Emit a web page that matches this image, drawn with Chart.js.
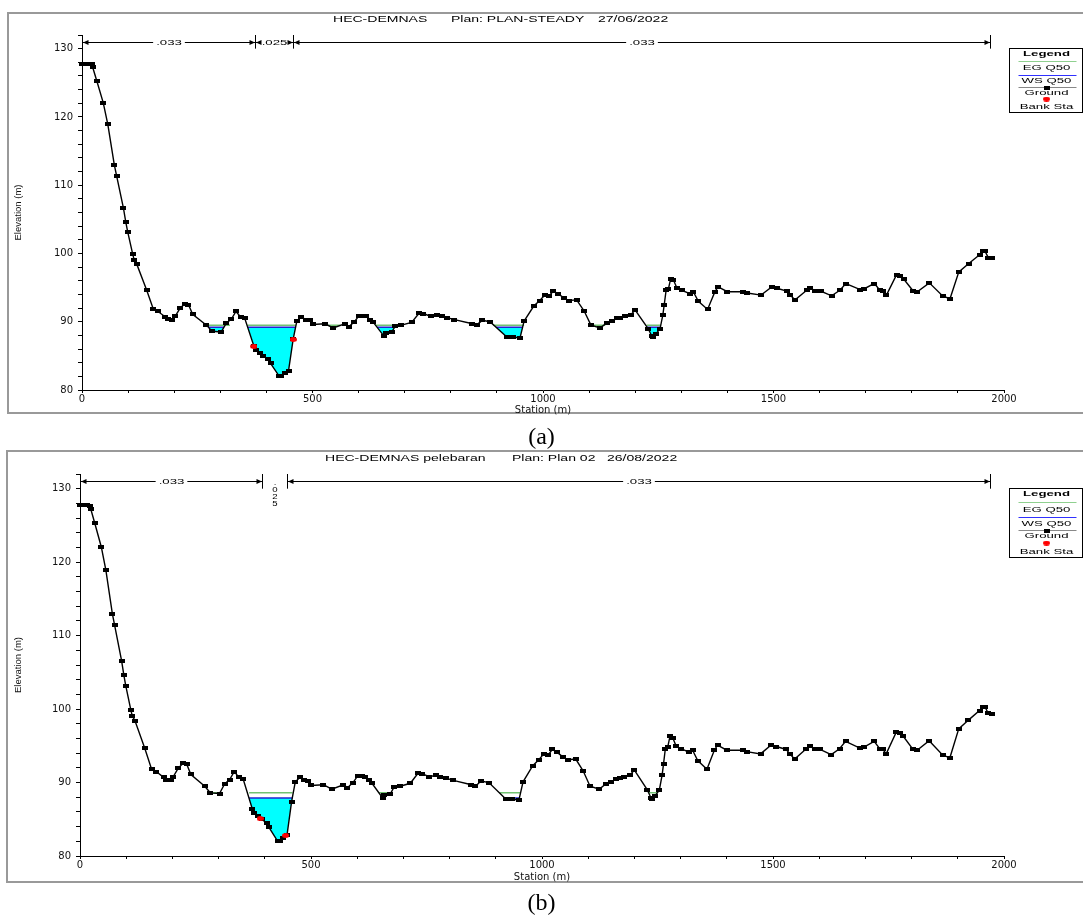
<!DOCTYPE html>
<html>
<head>
<meta charset="utf-8">
<title>HEC-DEMNAS cross section</title>
<script src="https://cdn.jsdelivr.net/npm/chart.js@4.4.1/dist/chart.umd.min.js"></script>
<style>
  html, body { margin: 0; padding: 0; background: #fff; }
  body { width: 1083px; height: 916px; position: relative; overflow: hidden; }
  .frame { position: absolute; border: 2px solid #999; box-sizing: border-box; }
  canvas { position: absolute; left: 0; }
  .caption { position: absolute; left: 0; width: 1083px; text-align: center;
             font-family: "Liberation Serif", "Times New Roman", serif; font-size: 24px; color: #000; }
</style>
</head>
<body>
<div class="frame" style="left:7px;top:12px;width:1100px;height:402px"></div>
<canvas id="chartA" width="1083" height="430" style="top:0"></canvas>
<div class="caption" style="top:423px">(a)</div>
<div class="frame" style="left:6px;top:450px;width:1100px;height:433px"></div>
<canvas id="chartB" width="1083" height="445" style="top:440px"></canvas>
<div class="caption" style="top:889px">(b)</div>

<script>
// surveyed ground profile, same section in both plans
const groundStation = [0, 8, 15, 21, 23, 32, 46, 56, 70, 75, 90, 95, 99, 110, 113, 119, 140, 155, 165, 181,
  187, 196, 202, 213, 223, 231, 240, 270, 282, 302, 313, 324, 334, 344, 353, 373, 377, 386, 393, 404,
  409, 428, 432, 440, 448, 458, 466, 476, 485, 494, 500, 527, 545, 570, 579, 591, 601, 610, 617, 625,
  632, 655, 659, 672, 680, 693, 715, 732, 740, 756, 771, 780, 792, 808, 847, 856, 868, 885, 921, 934,
  950, 959, 980, 993, 1004, 1014, 1022, 1033, 1045, 1056, 1073, 1089, 1104, 1124, 1138, 1150, 1160, 1168, 1178, 1190,
  1200, 1228, 1236, 1239, 1245, 1254, 1260, 1263, 1267, 1272, 1277, 1283, 1290, 1301, 1319, 1326, 1337, 1357, 1373, 1380,
  1400, 1434, 1443, 1473, 1496, 1507, 1529, 1536, 1547, 1572, 1580, 1590, 1602, 1626, 1644, 1657, 1688, 1696, 1719, 1731,
  1738, 1745, 1767, 1774, 1782, 1803, 1812, 1838, 1868, 1883, 1902, 1923, 1947, 1954, 1959, 1966, 1973];
const groundElev = [127.8, 127.8, 127.8, 127.7, 127.3, 125.3, 122.1, 118.9, 113.0, 111.4, 106.6, 104.6, 103.2, 99.9, 99.1, 98.4, 94.7, 91.8, 91.5, 90.7,
  90.4, 90.3, 90.8, 92.0, 92.6, 92.5, 91.1, 89.5, 88.6, 88.5, 89.8, 90.4, 91.5, 90.7, 90.5, 86.4, 85.8, 85.4, 85.0, 84.5,
  83.9, 82.0, 82.0, 82.5, 82.8, 87.4, 90.1, 90.7, 90.3, 90.2, 89.6, 89.7, 89.1, 89.7, 89.3, 90.0, 90.9, 90.9, 90.8, 90.3,
  89.9, 87.9, 88.3, 88.5, 89.4, 89.5, 89.9, 91.3, 91.2, 90.8, 91.0, 90.8, 90.6, 90.3, 89.7, 89.5, 90.2, 90.0, 87.8, 87.8,
  87.6, 90.1, 92.3, 93.1, 93.9, 93.8, 94.5, 94.1, 93.5, 93.1, 93.2, 91.6, 89.5, 89.1, 89.8, 90.1, 90.5, 90.6, 90.8, 91.0,
  91.7, 89.0, 87.9, 87.7, 88.2, 89.0, 91.0, 92.5, 94.6, 94.8, 96.3, 96.1, 95.0, 94.6, 94.1, 94.4, 93.0, 91.8, 94.4, 95.1,
  94.4, 94.4, 94.2, 93.9, 95.1, 94.9, 94.5, 93.9, 93.2, 94.6, 95.0, 94.5, 94.5, 93.8, 94.6, 95.6, 94.7, 94.8, 95.6, 94.6,
  94.5, 93.9, 96.9, 96.7, 96.3, 94.5, 94.4, 95.7, 93.7, 93.4, 97.3, 98.5, 99.8, 100.3, 100.3, 99.4, 99.3];

// plan (a)
const titleA = ['HEC-DEMNAS', 'Plan: PLAN-STEADY', '27/06/2022'];
const bankStationA = [373, 458];
const bankElevA = [86.4, 87.4];
const wsElevA = 89.2;
const egElevA = 89.5;
const wsReachA = [[274, 308], [359, 463], [640, 678], [898, 956], [1226, 1255]];
const egReachA = [[263, 321], [359, 464], [534, 560], [636, 693], [892, 959], [1104, 1135], [1225, 1256]];
const manningA = ['.033', '.025', '.033'];
const manningStationA = [0, 375, 458, 1970];

// plan (b) pelebaran
const titleB = ['HEC-DEMNAS pelebaran', 'Plan: Plan 02', '26/08/2022'];
const bankStationB = [390, 445];
const bankElevB = [85.1, 82.8];
const wsElevB = 87.9;
const egElevB = 88.6;
const wsReachB = [[366, 460], [919, 951], [1236, 1241]];
const egReachB = [[282, 303], [366, 460], [647, 673], [908, 954], [1231, 1250]];
const manningB = ['.033', '.025', '.033'];
const manningStationB = [0, 393, 447, 1970];

const xLabels = [0, 500, 1000, 1500, 2000];
const yLabels = [80, 90, 100, 110, 120, 130];
const legendLabels = ['EG Q50', 'WS Q50', 'Ground', 'Bank Sta'];

const SX = 1.65; // the original plot text is drawn wide
const SANS = '"Liberation Sans", Arial, sans-serif';

function makeMarker(w, h, color, round) {
  const c = document.createElement('canvas');
  c.width = w; c.height = h;
  const g = c.getContext('2d');
  g.fillStyle = color;
  if (round) {
    g.beginPath(); g.ellipse(w / 2, h / 2, w / 2, h / 2, 0, 0, Math.PI * 2); g.fill();
  } else {
    g.fillRect(0, 0, w, h);
  }
  return c;
}
const groundMarker = makeMarker(6, 4, '#000', false);
const bankMarker = makeMarker(7, 5, '#ff0000', true);

function reachLine(reaches, elev) {
  const pts = [];
  reaches.forEach((r, i) => {
    if (i > 0) pts.push({x: (reaches[i - 1][1] + r[0]) / 2, y: null});
    pts.push({x: r[0], y: elev}, {x: r[1], y: elev});
  });
  return pts;
}

function wideText(ctx, text, x, y, font, align, sx = SX) {
  ctx.save();
  ctx.font = font;
  ctx.textBaseline = 'middle';
  ctx.textAlign = align;
  ctx.translate(x, y);
  ctx.scale(sx, 1);
  ctx.fillText(text, 0, 0);
  ctx.restore();
}
function wideWidth(ctx, text, font) {
  ctx.save(); ctx.font = font;
  const w = ctx.measureText(text).width * SX;
  ctx.restore();
  return w;
}

function drawManning(chart, labels, stations) {
  const {ctx, scales: {x, y}} = chart;
  const yy = Math.round(y.getPixelForValue(131)) + 0.5;
  const top = y.getPixelForValue(132), bot = y.getPixelForValue(130);
  const font = '8px ' + SANS;
  const px = stations.map(s => Math.round(x.getPixelForValue(s)) + 0.5);
  ctx.save();
  ctx.strokeStyle = '#000'; ctx.fillStyle = '#000'; ctx.lineWidth = 1;
  px.forEach(p => { ctx.beginPath(); ctx.moveTo(p, top); ctx.lineTo(p, bot); ctx.stroke(); });
  labels.forEach((lab, i) => {
    const x1 = px[i], x2 = px[i + 1], cx = (x1 + x2) / 2;
    const w = wideWidth(ctx, lab, font);
    if (x2 - x1 >= w + 8) {
      wideText(ctx, lab, cx, yy, font, 'center');
      ctx.beginPath();
      ctx.moveTo(x1, yy); ctx.lineTo(cx - w / 2 - 3, yy);
      ctx.moveTo(cx + w / 2 + 3, yy); ctx.lineTo(x2, yy);
      ctx.stroke();
      ctx.beginPath();
      ctx.moveTo(x1 + 0.5, yy); ctx.lineTo(x1 + 6, yy - 2.5); ctx.lineTo(x1 + 6, yy + 2.5); ctx.closePath();
      ctx.moveTo(x2 - 0.5, yy); ctx.lineTo(x2 - 6, yy - 2.5); ctx.lineTo(x2 - 6, yy + 2.5); ctx.closePath();
      ctx.fill();
    } else {
      // too narrow: HEC-RAS stacks the characters
      [...lab].forEach((ch, k) => wideText(ctx, ch, cx, yy + 1 + k * 7, '8px ' + SANS, 'center', 1.2));
    }
  });
  ctx.restore();
}

function drawTitle(chart, parts, offsets) {
  const {ctx, chartArea, scales: {y}} = chart;
  const ty = y.getPixelForValue(132) - 15;
  ctx.save();
  ctx.fillStyle = '#000';
  parts.forEach((p, i) => wideText(ctx, p, chartArea.left + offsets[i], ty, '8.5px ' + SANS, 'left'));
  ctx.restore();
}

function drawLegend(chart) {
  const {ctx, chartArea, scales: {y}} = chart;
  const top = Math.round(y.getPixelForValue(130)) - 0.5;
  const k = (y.getPixelForValue(120) - y.getPixelForValue(130)) / 68.3;
  const left = Math.round(chartArea.right) + 5.5, w = 73, h = Math.round(64 * k);
  const cx = left + 37, l1 = left + 9, l2 = left + w - 6;
  const font = '8px ' + SANS;
  ctx.save();
  ctx.fillStyle = '#fff'; ctx.fillRect(left, top, w, h);
  ctx.strokeStyle = '#000'; ctx.lineWidth = 1; ctx.strokeRect(left, top, w, h);
  ctx.fillStyle = '#000';
  wideText(ctx, 'Legend', cx, top + 5 * k, 'bold ' + font, 'center');
  const hline = (yy, color) => {
    ctx.strokeStyle = color; ctx.lineWidth = 1;
    ctx.beginPath(); ctx.moveTo(l1, Math.round(yy) + 0.5); ctx.lineTo(l2, Math.round(yy) + 0.5); ctx.stroke();
  };
  hline(top + 12.7 * k, '#8fd08f');
  wideText(ctx, legendLabels[0], cx, top + 19.7 * k, font, 'center');
  hline(top + 26.3 * k, '#3030ff');
  wideText(ctx, legendLabels[1], cx, top + 32.7 * k, font, 'center');
  hline(top + 38.3 * k, '#888');
  ctx.drawImage(groundMarker, cx - 3, Math.round(top + 38.3 * k) - 1.5);
  wideText(ctx, legendLabels[2], cx, top + 44.3 * k, font, 'center');
  ctx.drawImage(bankMarker, cx - 3.5, Math.round(top + 50.7 * k) - 2.5);
  wideText(ctx, legendLabels[3], cx, top + 58.7 * k, font, 'center');
  ctx.restore();
}

function makeChart(id, p) {
  const ground = groundStation.map((s, i) => ({x: s, y: groundElev[i]}));
  const bank = p.bankStation.map((s, i) => ({x: s, y: p.bankElev[i]}));
  return new Chart(document.getElementById(id), {
    type: 'line',
    data: {
      datasets: [
        {label: 'Ground', data: ground, order: 1, borderColor: '#000', borderWidth: 1.4,
         pointStyle: groundMarker, pointRadius: 3, tension: 0, clip: 6},
        {label: 'Bank Sta', data: bank, order: 0, showLine: false,
         pointStyle: bankMarker, pointRadius: 3, clip: 6},
        {label: 'WS Q50', data: reachLine(p.wsReach, p.wsElev), order: 2, borderColor: '#2323d0',
         borderWidth: 1.5, pointRadius: 0, backgroundColor: '#00ffff',
         fill: {target: 0, above: '#00ffff', below: 'rgba(0,0,0,0)'}},
        {label: 'EG Q50', data: reachLine(p.egReach, p.egElev), order: 3, borderColor: '#72c272',
         borderWidth: 1.5, pointRadius: 0}
      ]
    },
    options: {
      responsive: false,
      animation: false,
      events: [],
      layout: {padding: p.padding},
      plugins: {legend: {display: false}, tooltip: {enabled: false}},
      scales: {
        x: {
          type: 'linear', min: 0, max: 2000,
          afterFit: s => { s.height = p.xAxisHeight; },
          grid: {drawOnChartArea: false, tickLength: 3, color: '#000'},
          border: {color: '#000', width: 1},
          ticks: {stepSize: 100, autoSkip: false, maxRotation: 0, padding: 0, color: '#111',
                  font: {family: 'DejaVu Sans', size: 10},
                  callback: v => xLabels.includes(v) ? v : ''},
          title: {display: true, text: 'Station (m)', color: '#111', padding: {top: 0, bottom: 0},
                  font: {family: 'DejaVu Sans', size: 10}}
        },
        y: {
          min: 80, max: 132,
          afterFit: s => { s.width = p.yAxisWidth; },
          grid: {drawOnChartArea: false, tickLength: 4, color: '#000'},
          border: {color: '#000', width: 1},
          ticks: {stepSize: 2, autoSkip: false, padding: 5, color: '#111',
                  font: {family: 'DejaVu Sans', size: 10},
                  callback: v => yLabels.includes(v) ? v : ''},
          title: {display: true, text: 'Elevation (m)', color: '#111', padding: {top: 3, bottom: 0},
                  font: {family: 'Liberation Sans', size: 9.5}}
        }
      }
    },
    plugins: [{
      id: 'hecras',
      afterDraw(chart) {
        drawTitle(chart, p.title, p.titleOffsets);
        drawManning(chart, p.manning, p.manningStation);
        drawLegend(chart);
      }
    }]
  });
}

makeChart('chartA', {
  title: titleA, titleOffsets: [251, 369, 516],
  bankStation: bankStationA, bankElev: bankElevA,
  wsReach: wsReachA, wsElev: wsElevA, egReach: egReachA, egElev: egElevA,
  manning: manningA, manningStation: manningStationA,
  padding: {top: 35, left: 10, right: 79, bottom: 14}, yAxisWidth: 72, xAxisHeight: 26
});
makeChart('chartB', {
  title: titleB, titleOffsets: [245, 432, 527],
  bankStation: bankStationB, bankElev: bankElevB,
  wsReach: wsReachB, wsElev: wsElevB, egReach: egReachB, egElev: egElevB,
  manning: manningB, manningStation: manningStationB,
  padding: {top: 34, left: 10, right: 79, bottom: 2}, yAxisWidth: 70, xAxisHeight: 27
});
</script>
</body>
</html>
